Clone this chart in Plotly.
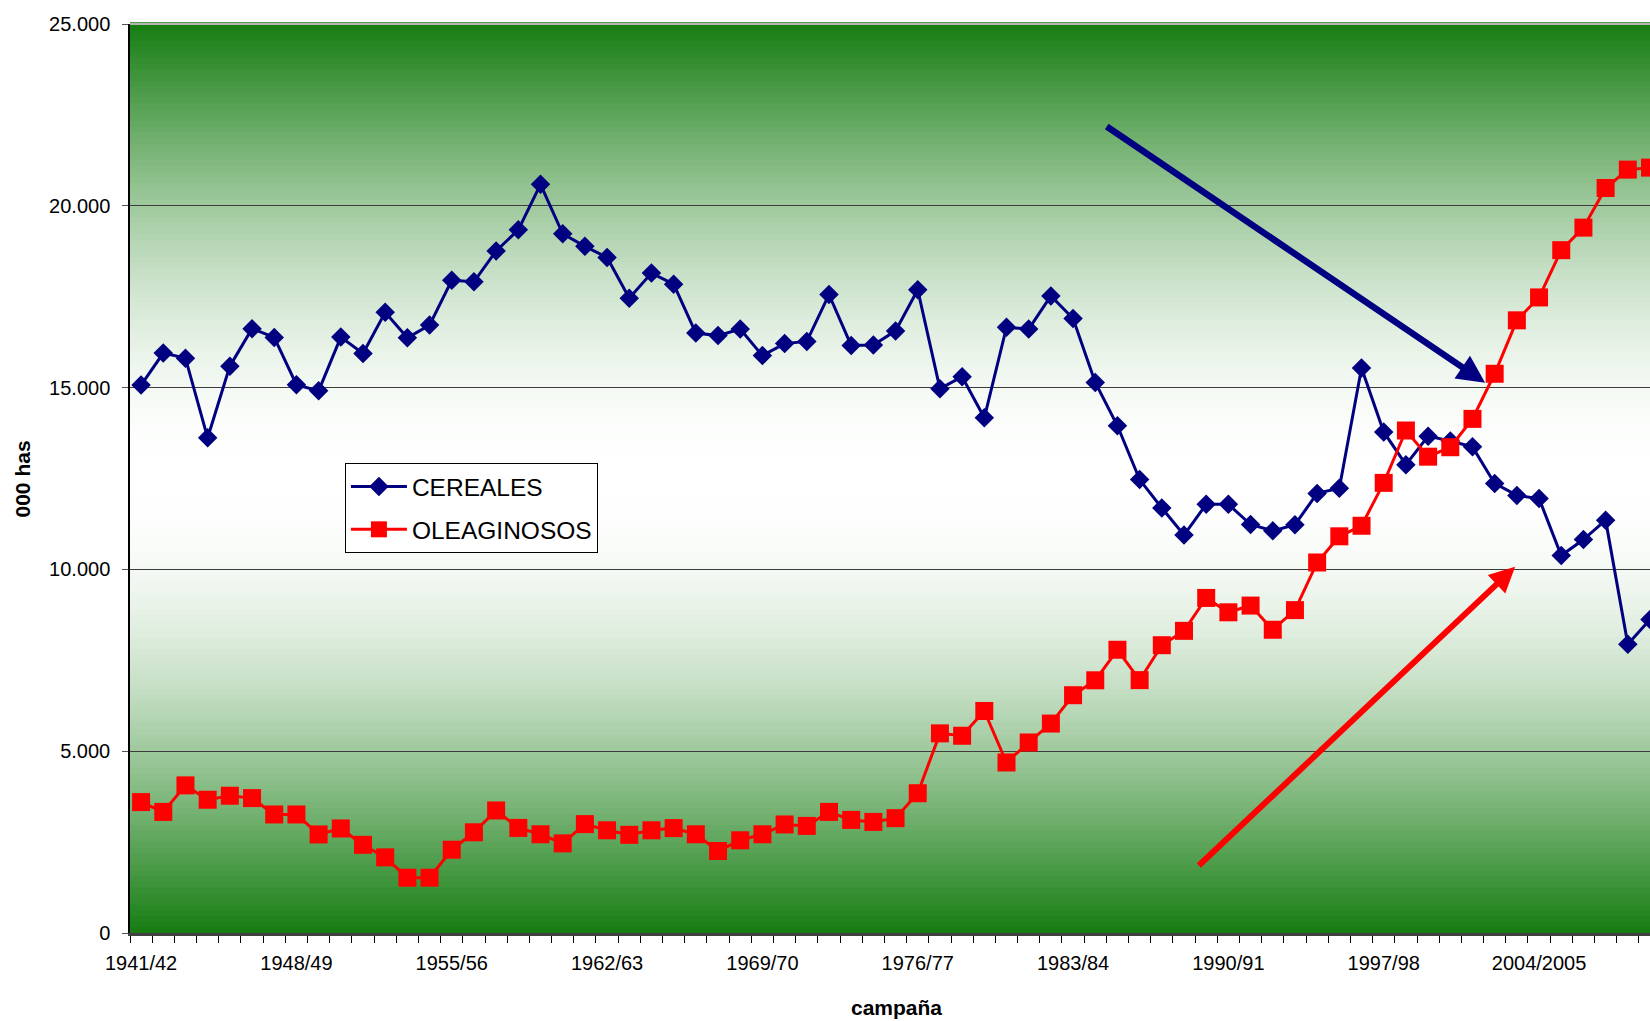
import math
import plotly.graph_objects as go

campanas = [
    "1941/42", "1942/43", "1943/44", "1944/45", "1945/46", "1946/47", "1947/48",
    "1948/49", "1949/50", "1950/51", "1951/52", "1952/53", "1953/54", "1954/55",
    "1955/56", "1956/57", "1957/58", "1958/59", "1959/60", "1960/61", "1961/62",
    "1962/63", "1963/64", "1964/65", "1965/66", "1966/67", "1967/68", "1968/69",
    "1969/70", "1970/71", "1971/72", "1972/73", "1973/74", "1974/75", "1975/76",
    "1976/77", "1977/78", "1978/79", "1979/80", "1980/81", "1981/82", "1982/83",
    "1983/84", "1984/85", "1985/86", "1986/87", "1987/88", "1988/89", "1989/90",
    "1990/91", "1991/92", "1992/93", "1993/94", "1994/95", "1995/96", "1996/97",
    "1997/98", "1998/99", "1999/00", "2000/01", "2001/02", "2002/03", "2003/04",
    "2004/2005", "2005/06", "2006/07", "2007/08", "2008/09", "2009/10",
]

cereales = [
    15070, 15950, 15810, 13620, 15590, 16620, 16380, 15080, 14910, 16390,
    15940, 17070, 16370, 16720, 17950, 17910, 18760, 19340, 20590, 19230,
    18885, 18580, 17460, 18150, 17845, 16500, 16430, 16610, 15880, 16210,
    16270, 17560, 16160, 16170, 16560, 17690, 14970, 15300, 14170, 16660,
    16610, 17520, 16900, 15140, 13950, 12470, 11690, 10945, 11790, 11790,
    11235, 11060, 11230, 12090, 12230, 15540, 13780, 12880, 13665, 13530,
    13370, 12365, 12035, 11950, 10380, 10820, 11355, 7940, 8620,
]

oleaginosos = [
    3600, 3330, 4060, 3665, 3775, 3710, 3260, 3260, 2710, 2875,
    2425, 2080, 1520, 1520, 2290, 2770, 3370, 2890, 2715, 2465,
    2995, 2825, 2700, 2825, 2885, 2715, 2255, 2550, 2715, 2985,
    2945, 3330, 3110, 3055, 3158, 3844, 5490, 5425, 6105, 4690,
    5240, 5760, 6540, 6950, 7790, 6955, 7915, 8310, 9215, 8820,
    9005, 8340, 8880, 10190, 10910, 11200, 12380, 13820, 13100, 13360,
    14140, 15380, 16850, 17480, 18780, 19400, 20490, 20995, 21050,
]

tick_labels = ["1941/42", "1948/49", "1955/56", "1962/63", "1969/70",
               "1976/77", "1983/84", "1990/91", "1997/98", "2004/2005"]

FONT = "Liberation Sans, Arial, sans-serif"
NAVY = "#000080"
RED = "#FF0000"

fig = go.Figure()
fig.add_trace(go.Scatter(
    x=campanas, y=cereales, name="CEREALES", mode="lines+markers",
    line=dict(color=NAVY, width=3),
    marker=dict(symbol="diamond", size=15, color=NAVY),
    legendgroup="a",
))
fig.add_trace(go.Scatter(
    x=campanas, y=oleaginosos, name="OLEAGINOSOS", mode="lines+markers",
    line=dict(color=RED, width=3),
    marker=dict(symbol="square", size=18, color=RED),
    legendgroup="b",
))

# background gradient (green - white - green)
shapes = []
N = 160
g = (22, 125, 18)
for k in range(N):
    mid = (k + 0.5) / N
    e = 1 - abs(mid - 0.5) * 2
    f = math.sin(math.pi / 2 * e)
    c = tuple(int(round(g[j] + (255 - g[j]) * f)) for j in range(3))
    shapes.append(dict(
        type="rect", xref="x domain", yref="y domain",
        x0=0, x1=1, y0=k / N, y1=(k + 1) / N + 0.002,
        fillcolor="rgb(%d,%d,%d)" % c, line=dict(width=0), layer="below",
    ))
shapes.append(dict(type="line", xref="x domain", yref="y domain",
                   x0=0, x1=1, y0=1, y1=1,
                   line=dict(color="#b4b4b4", width=2), layer="above"))

ticktext = [c if c in tick_labels else "" for c in campanas]

fig.update_layout(
    width=1650, height=1021,
    margin=dict(l=130, r=0, t=24, b=88),
    paper_bgcolor="white", plot_bgcolor="rgba(0,0,0,0)",
    separators=",.",
    font=dict(family=FONT, size=20, color="black"),
    shapes=shapes,
    showlegend=True,
    legend=dict(
        x=0.1414, y=0.517, xanchor="left", yanchor="top",
        bgcolor="white", bordercolor="black", borderwidth=1,
        font=dict(family=FONT, size=24.5, color="black"),
        tracegroupgap=8, itemwidth=56,
    ),
    xaxis=dict(
        type="category",
        range=[-0.5, 68.0],
        tickmode="array", tickvals=campanas, ticktext=ticktext,
        tickangle=0,
        tickson="boundaries", ticks="outside", ticklen=7,
        tickcolor="black", tickwidth=1,
        showgrid=False, zeroline=False,
        showline=True, linecolor="#404040", linewidth=2.5,
        tickfont=dict(family=FONT, size=20, color="black"),
        ticklabelstandoff=10,
    ),
    yaxis=dict(
        range=[0, 25000],
        tickmode="array", tickvals=[0, 5000, 10000, 15000, 20000, 25000],
        tickformat=",d",
        ticks="outside", ticklen=6, tickcolor="#555555", tickwidth=1,
        showgrid=True, gridcolor="#3c3c3c", gridwidth=1.2,
        zeroline=False,
        showline=True, linecolor="black", linewidth=1.5,
        tickfont=dict(family=FONT, size=20, color="black"),
        ticklabelstandoff=8,
    ),
    annotations=[
        dict(text="<b>000 has</b>", xref="paper", yref="paper",
             x=-0.0704, y=0.5, textangle=-90, showarrow=False,
             xanchor="center", yanchor="middle",
             font=dict(family=FONT, size=21, color="black")),
        dict(text="<b>campaña</b>", xref="paper", yref="paper",
             x=0.504, y=-0.0825, showarrow=False,
             xanchor="center", yanchor="middle",
             font=dict(family=FONT, size=21, color="black")),
        dict(text="", xref="x", yref="y", axref="x", ayref="y",
             x=60.57, y=15136, ax=43.45, ay=22209,
             showarrow=True, arrowhead=2, arrowsize=0.85, arrowwidth=6.5,
             arrowcolor=NAVY, standoff=0),
        dict(text="", xref="x", yref="y", axref="x", ayref="y",
             x=61.92, y=10072, ax=47.6, ay=1816,
             showarrow=True, arrowhead=2, arrowsize=0.85, arrowwidth=6,
             arrowcolor=RED, standoff=0),
    ],
)

fig.write_html(
    "out.html",
    config={"displayModeBar": False},
    post_script="document.body.style.margin='0';document.body.style.overflow='hidden';",
)
